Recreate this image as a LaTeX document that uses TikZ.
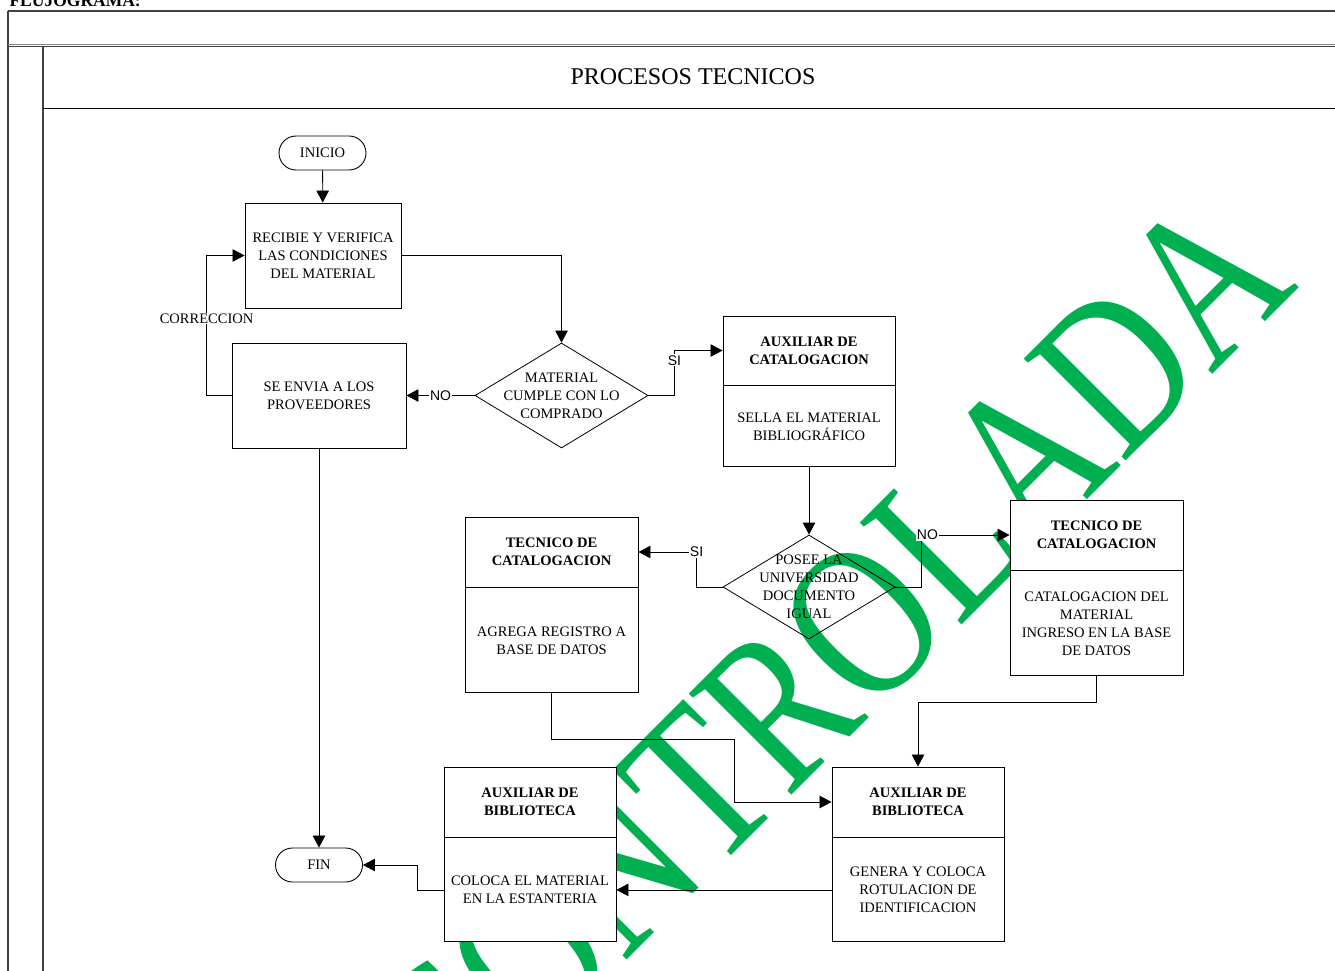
\documentclass[tikz,border=0pt]{standalone}
\usepackage{fontspec}
\setmainfont{Liberation Serif}
\newfontfamily\labelfont{Liberation Sans}
\usetikzlibrary{arrows.meta,shapes.geometric}
\definecolor{wmgreen}{HTML}{00B050}
\definecolor{framegray}{HTML}{404040}

% centred text of zero size, so a diamond keeps its given dimensions
\newcommand\dtext[1]{\smash{\raisebox{-4.8pt}{\makebox[0pt]{\begin{tabular}{@{}c@{}}#1\end{tabular}}}}}

\tikzset{
  txt/.style={font=\fontsize{14.5}{18}\selectfont, align=center},
  stepbox/.style={txt, draw, fill=white, line width=0.9pt, inner sep=0pt},
  hdr/.style={stepbox, font=\bfseries\fontsize{14.5}{18}\selectfont},
  term/.style={txt, draw, fill=white, line width=0.9pt, rounded corners=17pt,
               minimum width=87pt, minimum height=34pt, inner sep=0pt},
  decision/.style={txt, draw, diamond, line width=0.8pt, inner sep=0pt},
  conn/.style={line width=0.8pt, -{Triangle[length=12pt,width=12.5pt]}},
  lbl/.style={font=\labelfont\fontsize{14}{14}\selectfont, fill=white, inner sep=1pt},
  frameline/.style={draw=framegray, line width=1.2pt},
}

\begin{document}
\begin{tikzpicture}[x=1pt, y=-1pt]
\useasboundingbox (0,0) rectangle (1335,971);

% heading above the frame
\node[anchor=base west, font=\bfseries\fontsize{17.5}{18}\selectfont] (heading) at (6,7) {FLUJOGRAMA:};

% watermark
\node[rotate=45, anchor=base east, text=wmgreen, inner sep=0pt,
      font=\fontsize{220}{220}\selectfont] (wm) at (1300,287)
      {\scalebox{0.79}[1]{CONTROLADA}};

% frame of the sheet
\draw[frameline] (8,11) -- (1345,11);
\draw[frameline] (8,11) -- (8,980);
\draw[frameline, line width=0.8pt, draw=gray] (8,44.2) -- (1345,44.2);
\draw[frameline] (8,46.5) -- (1345,46.5);
\draw[frameline, line width=1.6pt] (43,46.5) -- (43,980);
\draw[frameline, draw=black, line width=1pt] (43,109) -- (1345,109);

\node[font=\fontsize{24}{26}\selectfont] (title) at (693,77) {PROCESOS TECNICOS};

% steps
\node[term] (inicio) at (322.5,153) {INICIO};
\node[stepbox, minimum width=156pt, minimum height=105pt] (recibe) at (323,255.5)
  {RECIBIE Y VERIFICA\\LAS CONDICIONES\\DEL MATERIAL};
\node[stepbox, minimum width=174pt, minimum height=105pt] (envia) at (319,395.5)
  {SE ENVIA A LOS\\PROVEEDORES};
\node[decision, minimum width=173pt, minimum height=105pt] (d1) at (561.5,395.5)
  {\dtext{MATERIAL\\CUMPLE CON LO\\COMPRADO}};

\node[hdr, minimum width=172pt, minimum height=69pt] (auxcatH) at (809,350.5)
  {AUXILIAR DE\\CATALOGACION};
\node[stepbox, minimum width=172pt, minimum height=81pt, anchor=north] (auxcat) at (auxcatH.south)
  {SELLA EL MATERIAL\\BIBLIOGRÁFICO};

\node[decision, minimum width=172pt, minimum height=104pt] (d2) at (809,587)
  {\dtext{POSEE LA\\UNIVERSIDAD\\DOCUMENTO\\IGUAL}};

\node[hdr, minimum width=173pt, minimum height=70pt] (tc1H) at (551.5,552)
  {TECNICO DE\\CATALOGACION};
\node[stepbox, minimum width=173pt, minimum height=105pt, anchor=north] (tc1) at (tc1H.south)
  {AGREGA REGISTRO A\\BASE DE DATOS};

\node[hdr, minimum width=173pt, minimum height=70pt] (tc2H) at (1096.5,535)
  {TECNICO DE\\CATALOGACION};
\node[stepbox, minimum width=173pt, minimum height=105pt, anchor=north] (tc2) at (tc2H.south)
  {CATALOGACION DEL\\MATERIAL\\INGRESO EN LA BASE\\DE DATOS};

\node[hdr, minimum width=172pt, minimum height=70pt] (ab1H) at (530,802)
  {AUXILIAR DE\\BIBLIOTECA};
\node[stepbox, minimum width=172pt, minimum height=104pt, anchor=north] (ab1) at (ab1H.south)
  {COLOCA EL MATERIAL\\EN LA ESTANTERIA};

\node[hdr, minimum width=172pt, minimum height=70pt] (ab2H) at (918,802)
  {AUXILIAR DE\\BIBLIOTECA};
\node[stepbox, minimum width=172pt, minimum height=104pt, anchor=north] (ab2) at (ab2H.south)
  {GENERA Y COLOCA\\ROTULACION DE\\IDENTIFICACION};

\node[term] (fin) at (319,865) {FIN};

% connectors
\draw[conn] (inicio) -- (recibe);
\draw[conn] (recibe.east) -| (d1.north);
\draw[conn] (d1.west) -- node[lbl] {NO} (envia.east);
\draw[conn] (envia.west) -- ++(-25,0) |- node[lbl, font=\fontsize{14.5}{15}\selectfont, pos=0.275] {CORRECCION} (recibe.west);
\draw[conn] (envia.south) -- (fin.north);
\draw[conn] (d1.east) -- ++(26,0) |- node[lbl, pos=0.39] {SI} (auxcatH.west);
\draw[conn] (auxcat.south) -- (d2.north);
\draw[conn] (d2.west) -- ++(-26,0) |- node[lbl, pos=0.5] {SI} (tc1H.east);
\draw[conn] (d2.east) -- ++(26,0) |- node[lbl, pos=0.5, xshift=6pt] {NO} (tc2H.west);
\draw[conn] (tc2.south) -- ++(0,26) -| (ab2H.north);
\draw[conn] (tc1.south) -- ++(0,46) -| ([xshift=-97pt]ab2H.west) -- (ab2H.west);
\draw[conn] (ab2.west) -- (ab1.east);
\draw[conn] (ab1.west) -- ++(-26,0) |- (fin.east);
\end{tikzpicture}
\end{document}
